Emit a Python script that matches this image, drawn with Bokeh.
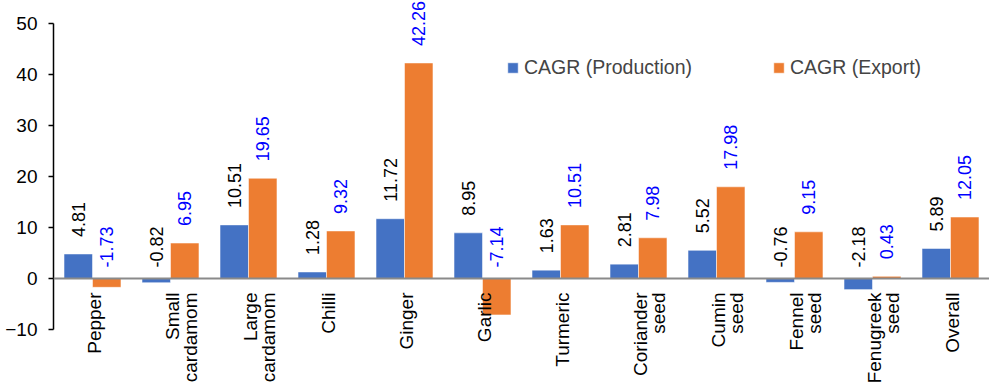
import math

from bokeh.core.properties import value
from bokeh.embed import file_html
from bokeh.resources import INLINE
from bokeh.plotting import figure
from bokeh.models import (ColumnDataSource, FactorRange, Range1d, FixedTicker,
                          LabelSet, Span, Legend, LegendItem)
from bokeh.transform import dodge

# Spice categories and compound annual growth rates (%)
categories = ["Pepper", "Small cardamom", "Large cardamom", "Chilli", "Ginger",
              "Garlic", "Turmeric", "Coriander seed", "Cumin seed",
              "Fennel seed", "Fenugreek seed", "Overall"]
cagr_production = [4.81, -0.82, 10.51, 1.28, 11.72, 8.95, 1.63, 2.81, 5.52,
                   -0.76, -2.18, 5.89]
cagr_export = [-1.73, 6.95, 19.65, 9.32, 42.26, -7.14, 10.51, 7.98, 17.98,
               9.15, 0.43, 12.05]
y_ticks = [-10, 0, 10, 20, 30, 40, 50]

FONT = "Liberation Sans"
BLUE = "#4472C4"
ORANGE = "#ED7D31"
BAR_W = 0.365
SHIFT = BAR_W / 2

# axis spans -10..50; the frame extends past it so labels have room
AX_MIN, AX_MAX = -10, 50
PX_PER_UNIT = 5.1
H = 387
TOP_PAD, BOTTOM_PAD = 23, 58
y_lo = AX_MIN - BOTTOM_PAD / PX_PER_UNIT
y_hi = AX_MAX + TOP_PAD / PX_PER_UNIT


def anchor(vals):
    return [max(v, 0) for v in vals]


def lift(vals):
    return [17 if v >= 0 else 11 for v in vals]


src = ColumnDataSource(dict(
    cat=categories,
    prod=cagr_production,
    exp=cagr_export,
    prod_y=anchor(cagr_production),
    exp_y=anchor(cagr_export),
    prod_off=lift(cagr_production),
    exp_off=lift(cagr_export),
    prod_txt=[f"{v:.2f}" for v in cagr_production],
    exp_txt=[f"{v:.2f}" for v in cagr_export],
))

p = figure(width=989, height=H, output_backend="svg", toolbar_location=None,
           x_range=FactorRange(factors=categories, range_padding=0),
           y_range=Range1d(y_lo, y_hi), x_axis_location=None,
           min_border_left=53, min_border_right=0, min_border_top=0,
           min_border_bottom=0)
p.outline_line_color = None
p.xgrid.visible = False
p.ygrid.visible = False
p.background_fill_color = "white"
p.border_fill_color = "white"

# y axis
ax = p.yaxis[0]
ax.bounds = (AX_MIN, AX_MAX)
ax.ticker = FixedTicker(ticks=y_ticks)
ax.axis_line_color = "black"
ax.axis_line_width = 1.5
ax.major_tick_line_color = "black"
ax.major_tick_line_width = 1.5
ax.major_tick_out = 5
ax.major_tick_in = 0
ax.minor_tick_line_color = None
ax.major_label_standoff = 11
ax.major_label_text_font = FONT
ax.major_label_text_font_size = "19px"
ax.major_label_text_color = "black"

# bars
r_prod = p.vbar(x=dodge("cat", -SHIFT, range=p.x_range), top="prod", bottom=0,
                width=BAR_W, source=src, fill_color=BLUE,
                line_color="white", line_alpha=0.5, line_width=1)
r_exp = p.vbar(x=dodge("cat", SHIFT, range=p.x_range), top="exp", bottom=0,
               width=BAR_W, source=src, fill_color=ORANGE,
               line_color="white", line_alpha=0.5, line_width=1)

# zero line
p.add_layout(Span(location=0, dimension="width", line_color="#8A8A8A",
                  line_width=2))

# value labels
for xoff, ycol, offcol, txtcol, color in [
        (-SHIFT, "prod_y", "prod_off", "prod_txt", "black"),
        (SHIFT, "exp_y", "exp_off", "exp_txt", "#0000FF")]:
    p.add_layout(LabelSet(x=dodge("cat", xoff, range=p.x_range), y=ycol,
                          y_offset=offcol, text=txtcol, source=src,
                          angle=math.pi / 2, text_align="left",
                          text_baseline="middle", text_font=value(FONT),
                          text_font_size=value("18px"),
                          text_color=value(color)))

# category labels, split over two lines where needed
line1 = [c.split(" ", 1)[0] for c in categories]
line2 = [c.split(" ", 1)[1] if " " in c else "" for c in categories]
cat_src = ColumnDataSource(dict(cat=categories, l1=line1, l2=line2,
                                y=[0] * len(categories)))
for col, xo in [("l1", 2), ("l2", 20)]:
    p.add_layout(LabelSet(x="cat", y="y", x_offset=xo, y_offset=-14, text=col,
                          source=cat_src, angle=math.pi / 2,
                          text_align="right", text_baseline="middle",
                          text_font=value(FONT), text_font_size=value("19px"),
                          text_color=value("black")))

legend = Legend(items=[LegendItem(label="CAGR (Production)", renderers=[r_prod]),
                       LegendItem(label="CAGR (Export)", renderers=[r_exp])],
                orientation="horizontal", location=(453, 308),
                glyph_width=13, glyph_height=13, label_standoff=5, spacing=80,
                padding=0, margin=0, border_line_alpha=0,
                background_fill_alpha=0, label_text_font=FONT,
                label_text_font_size="19.5px", label_height=13)
p.add_layout(legend)

open("out.html", "w").write(file_html(p, INLINE))
